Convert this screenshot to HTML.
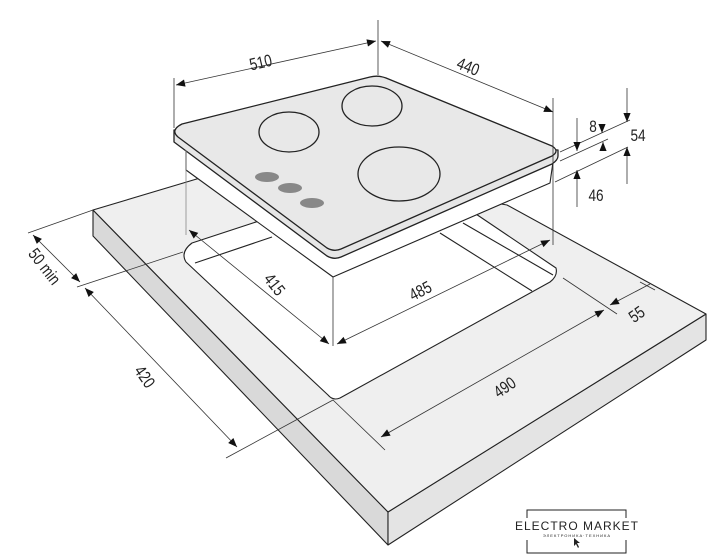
<!DOCTYPE html>
<html><head><meta charset="utf-8"><style>
html,body{margin:0;padding:0;background:#fff;}
svg{display:block;}
text{font-family:"Liberation Sans",sans-serif;font-size:17px;fill:#222;}
</style></head><body>
<svg width="728" height="560" viewBox="0 0 728 560" xmlns="http://www.w3.org/2000/svg">
<defs>
<marker id="a" viewBox="0 0 10 10" refX="10" refY="5" markerWidth="10" markerHeight="9" orient="auto-start-reverse" markerUnits="userSpaceOnUse"><path d="M0,1 L10,5 L0,9 z" fill="#111"/></marker>
</defs>
<g stroke="#222" stroke-width="1.1" stroke-linejoin="round">
<!-- countertop -->
<polygon points="93,210 93,236 388,545 388,512" fill="#d9d9d9"/>
<polygon points="388,512 388,545 706,340 706,314" fill="#e4e4e4"/>
<polygon points="93,210 200,178 420,190 507,205 706,314 388,512" fill="#efefef"/>
<!-- cutout -->
<path d="M192,243 L262,220 L470,210 L556,268 Q558,276 550,282 L340,398 Q333,401 328,395 L186,262 Q180,252 192,243 Z" fill="#fff"/>
<line x1="195" y1="263" x2="272" y2="237"/>
<line x1="440" y1="233" x2="532" y2="291"/>
<line x1="463" y1="223" x2="553" y2="275"/>
<!-- hob body -->
<polygon points="186,148 186,170 333,277 550,183 553,162 334,252" fill="#fff"/>
<!-- glass -->
<path d="M174,142 L327,256 Q334,260 341,257 L552,164 Q558,160 558,156 L558,150 L174,130 Z" fill="#e6e6e6" stroke-width="1.3"/>
<path d="M182,124 L370,77 Q378,75 386,78 L552,146 Q560,151 552,156 L341,249 Q334,252 327,248 L178,137 Q170,130 182,124 Z" fill="#e8e8e8" stroke-width="1.3"/>
<ellipse cx="289" cy="132" rx="30" ry="20" fill="none" stroke-width="1.3"/>
<ellipse cx="372" cy="106" rx="30" ry="20" fill="none" stroke-width="1.3"/>
<ellipse cx="399" cy="174" rx="41" ry="27" fill="none" stroke-width="1.3"/>
</g>
<g fill="#888">
<ellipse cx="267" cy="177" rx="12" ry="5"/>
<ellipse cx="290" cy="188" rx="12" ry="5"/>
<ellipse cx="312" cy="203" rx="12" ry="5"/>
</g>
<g stroke="#333" stroke-width="0.8" fill="none">
<line x1="174" y1="78" x2="174" y2="128"/>
<line x1="378" y1="20" x2="378" y2="75"/>
<line x1="553" y1="98" x2="553" y2="245" />
<line x1="186" y1="150" x2="186" y2="235" stroke="#888"/>
<line x1="333" y1="277" x2="333" y2="346"/>
<line x1="560" y1="152" x2="630" y2="120"/>
<line x1="560" y1="161" x2="608" y2="139"/>
<line x1="555" y1="182" x2="628" y2="147"/>
<line x1="28" y1="233" x2="93" y2="210"/>
<line x1="77" y1="287" x2="183" y2="252"/>
<line x1="226" y1="458" x2="333" y2="400"/>
<line x1="333" y1="400" x2="385" y2="450"/>
<line x1="563" y1="278" x2="617" y2="314"/>
<line x1="640" y1="282" x2="655" y2="290"/>
<line x1="176" y1="85" x2="376" y2="41" marker-start="url(#a)" marker-end="url(#a)"/>
<line x1="381" y1="41" x2="553" y2="112" marker-start="url(#a)" marker-end="url(#a)"/>
<line x1="577" y1="118" x2="577" y2="151" marker-end="url(#a)"/>
<line x1="577" y1="207" x2="577" y2="170" marker-end="url(#a)"/>
<line x1="602" y1="126" x2="602" y2="133" marker-end="url(#a)"/>
<line x1="603" y1="150" x2="603" y2="142" marker-end="url(#a)"/>
<line x1="627" y1="88" x2="627" y2="122" marker-end="url(#a)"/>
<line x1="627" y1="184" x2="627" y2="147" marker-end="url(#a)"/>
<line x1="33" y1="235" x2="80" y2="282" marker-start="url(#a)" marker-end="url(#a)"/>
<line x1="85" y1="288" x2="237" y2="447" marker-start="url(#a)" marker-end="url(#a)"/>
<line x1="189" y1="230" x2="329" y2="344" marker-start="url(#a)" marker-end="url(#a)"/>
<line x1="337" y1="344" x2="550" y2="240" marker-start="url(#a)" marker-end="url(#a)"/>
<line x1="381" y1="437" x2="604" y2="310" marker-start="url(#a)" marker-end="url(#a)"/>
<line x1="610" y1="305" x2="650" y2="284" marker-start="url(#a)"/>
</g>
<text transform="translate(262,68) rotate(-13) scale(0.8,1)" text-anchor="middle">510</text>
<text transform="translate(466,72) rotate(22) scale(0.8,1)" text-anchor="middle">440</text>
<text transform="translate(593,132) scale(0.8,1)" text-anchor="middle">8</text>
<text transform="translate(638,141) scale(0.8,1)" text-anchor="middle">54</text>
<text transform="translate(596,201) scale(0.8,1)" text-anchor="middle">46</text>
<text transform="translate(40,270) rotate(52) scale(0.8,1)" text-anchor="middle">50 min</text>
<text transform="translate(140,380) rotate(55) scale(0.8,1)" text-anchor="middle">420</text>
<text transform="translate(270,288) rotate(52) scale(0.8,1)" text-anchor="middle">415</text>
<text transform="translate(423,296) rotate(-27) scale(0.8,1)" text-anchor="middle">485</text>
<text transform="translate(508,392) rotate(-35) scale(0.8,1)" text-anchor="middle">490</text>
<text transform="translate(640,319) rotate(-35) scale(0.8,1)" text-anchor="middle">55</text>
<g stroke="#222" stroke-width="1" fill="none">
<polyline points="527,518 527,510 626,510 626,518"/>
<polyline points="527,540 527,553 626,553 626,540"/>
</g>
<text x="577" y="530" text-anchor="middle" style="font-size:12px;letter-spacing:1px">ELECTRO MARKET</text>
<text x="577" y="537" text-anchor="middle" style="font-size:4px;letter-spacing:1px">ЭЛЕКТРОНИКА·ТЕХНИКА</text>
<path d="M574,538 L574,546 L576,544 L578,548 L579,547 L577,543 L580,543 Z" fill="#222"/>
</svg>
</body></html>
